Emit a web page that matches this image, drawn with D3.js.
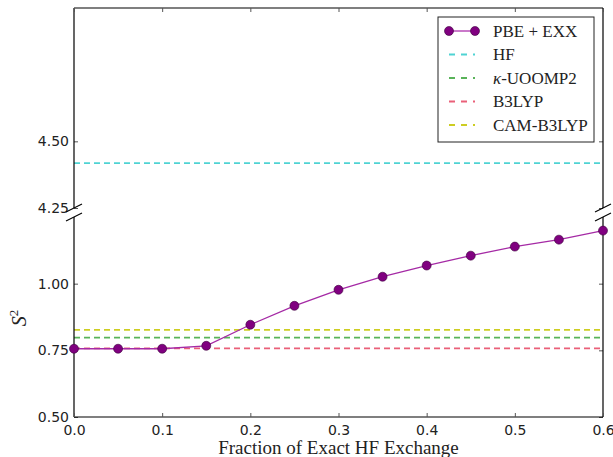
<!DOCTYPE html>
<html>
<head>
<meta charset="utf-8">
<script src="https://cdn.jsdelivr.net/npm/d3@7"></script>
<style>
  body { margin: 0; background: #fff; }
  svg text { fill: #222; }
</style>
</head>
<body>
<svg id="chart"></svg>
<script>
// data
const fractions = [0.0, 0.05, 0.1, 0.15, 0.2, 0.25, 0.3, 0.35, 0.4, 0.45, 0.5, 0.55, 0.6];
const pbeExx = [0.756, 0.756, 0.756, 0.767, 0.846, 0.917, 0.977, 1.026, 1.068, 1.105, 1.139, 1.165, 1.199];
const refNames = ["HF", "κ-UOOMP2", "B3LYP", "CAM-B3LYP"];
const refValues = [4.418, 0.798, 0.757, 0.827];
const refColors = ["#4fd3d3", "#59b359", "#ea6079", "#cdcd22"];
const xTicks = [0.0, 0.1, 0.2, 0.3, 0.4, 0.5, 0.6];
const topTicks = [4.25, 4.5];
const bottomTicks = [0.5, 0.75, 1.0];

const width = 613, height = 457;
const left = 74, right = 603;
const topPanel = [8, 208];     // y range of upper axes
const bottomPanel = [217, 417]; // y range of lower axes

const svg = d3.select("#chart").attr("width", width).attr("height", height);

const x = d3.scaleLinear().domain([0, 0.6]).range([left, right]);
const yTop = d3.scaleLinear().domain([4.25, 5.0]).range([topPanel[1], topPanel[0]]);
const yBot = d3.scaleLinear().domain([0.5, 1.25]).range([bottomPanel[1], bottomPanel[0]]);

const tickFont = "'DejaVu Sans', sans-serif";
const serif = "'Liberation Serif', 'Times New Roman', serif";

function drawPanel(y, ticks, showTop, showBottom) {
  const [y0, y1] = y.range();
  const g = svg.append("g");

  // reference lines that fall inside this panel
  refValues.forEach((v, i) => {
    const [lo, hi] = y.domain();
    if (v < lo || v > hi) return;
    g.append("line")
      .attr("x1", x(0)).attr("x2", x(0.6))
      .attr("y1", y(v)).attr("y2", y(v))
      .attr("stroke", refColors[i])
      .attr("stroke-width", 1.8)
      .attr("stroke-dasharray", "6,4");
  });

  // left axis
  const yAxis = d3.axisLeft(y).tickValues(ticks).tickSize(-4).tickPadding(5)
    .tickFormat(d3.format(".2f"));
  const ga = g.append("g").attr("transform", `translate(${left},0)`).call(yAxis);
  ga.select(".domain").remove();
  ga.selectAll("line").attr("stroke", "#555");
  ga.selectAll("text").style("font-family", tickFont).style("font-size", "14px").attr("fill", "#222");

  // right ticks
  const gr = g.append("g").attr("transform", `translate(${right},0)`)
    .call(d3.axisRight(y).tickValues(ticks).tickSize(-4).tickFormat(""));
  gr.select(".domain").remove();
  gr.selectAll("line").attr("stroke", "#555");

  // spines
  g.append("line").attr("x1", left).attr("x2", left).attr("y1", y0).attr("y2", y1)
    .attr("stroke", "#000").attr("stroke-width", 1.2);
  g.append("line").attr("x1", right).attr("x2", right).attr("y1", y0).attr("y2", y1)
    .attr("stroke", "#000").attr("stroke-width", 1.2);

  if (showTop) {
    g.append("line").attr("x1", left).attr("x2", right).attr("y1", y1).attr("y2", y1)
      .attr("stroke", "#000").attr("stroke-width", 1.2);
    const gt = g.append("g").attr("transform", `translate(0,${y1})`)
      .call(d3.axisTop(x).tickValues(xTicks).tickSize(-4).tickFormat(""));
    gt.select(".domain").remove();
    gt.selectAll("line").attr("stroke", "#555");
  }
  if (showBottom) {
    g.append("line").attr("x1", left).attr("x2", right).attr("y1", y0).attr("y2", y0)
      .attr("stroke", "#000").attr("stroke-width", 1.2);
    const gb = g.append("g").attr("transform", `translate(0,${y0})`)
      .call(d3.axisBottom(x).tickValues(xTicks).tickSize(-4).tickPadding(8).tickFormat(d3.format(".1f")));
    gb.select(".domain").remove();
    gb.selectAll("line").attr("stroke", "#555");
    gb.selectAll("text").style("font-family", tickFont).style("font-size", "14px").attr("fill", "#222");
  }
  return g;
}

drawPanel(yTop, topTicks, true, false);
const bottom = drawPanel(yBot, bottomTicks, false, true);

// PBE + EXX series
const line = d3.line().x((d, i) => x(fractions[i])).y(d => yBot(d));
bottom.append("path")
  .datum(pbeExx)
  .attr("d", line)
  .attr("fill", "none")
  .attr("stroke", "#a52aa5")
  .attr("stroke-width", 1.3);
bottom.selectAll("circle")
  .data(pbeExx)
  .enter()
  .append("circle")
  .attr("cx", (d, i) => x(fractions[i]))
  .attr("cy", d => yBot(d))
  .attr("r", 4.5)
  .attr("fill", "#800080")
  .attr("stroke", "#3a003a")
  .attr("stroke-width", 0.6);

// break marks
[left, right].forEach(px => {
  [topPanel[1], bottomPanel[0]].forEach(py => {
    svg.append("line")
      .attr("x1", px - 8).attr("y1", py + 4)
      .attr("x2", px + 8).attr("y2", py - 4)
      .attr("stroke", "#000").attr("stroke-width", 1.2);
  });
});

// legend
const lg = svg.append("g").attr("transform", "translate(438,17)");
lg.append("rect").attr("width", 156).attr("height", 125)
  .attr("fill", "#fff").attr("stroke", "#222").attr("stroke-width", 1);
const rowY = d => 14 + d * 23.5;
lg.append("line").attr("x1", 11).attr("x2", 37).attr("y1", rowY(0)).attr("y2", rowY(0))
  .attr("stroke", "#b84cb8").attr("stroke-width", 1.5);
[11, 37].forEach(cx => lg.append("circle").attr("cx", cx).attr("cy", rowY(0)).attr("r", 4.5)
  .attr("fill", "#800080").attr("stroke", "#3a003a").attr("stroke-width", 0.6));
lg.append("text").attr("x", 55).attr("y", rowY(0) + 5.5)
  .style("font-family", serif).style("font-size", "17px").text("PBE + EXX");
refNames.forEach((name, i) => {
  lg.append("line").attr("x1", 11).attr("x2", 37).attr("y1", rowY(i + 1)).attr("y2", rowY(i + 1))
    .attr("stroke", refColors[i]).attr("stroke-width", 1.8).attr("stroke-dasharray", "6,6");
  const t = lg.append("text").attr("x", 55).attr("y", rowY(i + 1) + 5.5)
    .style("font-family", serif).style("font-size", "17px");
  if (name.startsWith("κ")) {
    t.append("tspan").style("font-style", "italic").text("κ");
    t.append("tspan").text(name.slice(1));
  } else {
    t.text(name);
  }
});

// axis labels
svg.append("text")
  .attr("x", (left + right) / 2).attr("y", 454)
  .attr("text-anchor", "middle")
  .style("font-family", serif).style("font-size", "19px")
  .text("Fraction of Exact HF Exchange");

const yl = svg.append("text")
  .attr("transform", "translate(26,318) rotate(-90)")
  .attr("text-anchor", "middle")
  .style("font-family", serif).style("font-size", "20px");
yl.append("tspan").style("font-style", "italic").text("S");
yl.append("tspan").attr("dy", -8).style("font-size", "13px").text("2");
</script>
</body>
</html>
